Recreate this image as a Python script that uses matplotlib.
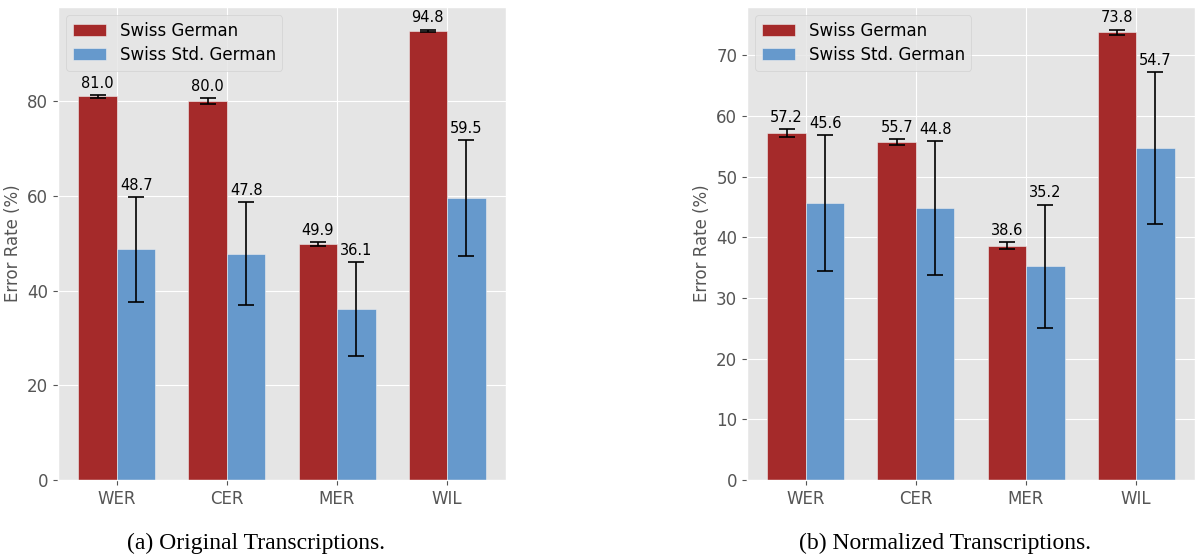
import matplotlib
matplotlib.use("Agg")
import matplotlib.pyplot as plt
import numpy as np

plt.style.use("ggplot")
plt.rcParams["font.family"] = ["DejaVu Sans"]

metrics = ["WER", "CER", "MER", "WIL"]
series_names = ["Swiss German", "Swiss Std. German"]

orig_sg = [81.0, 80.0, 49.9, 94.8]
orig_sg_err = [0.3, 0.55, 0.4, 0.3]
orig_std = [48.7, 47.8, 36.1, 59.5]
orig_std_err = [11.1, 10.9, 9.9, 12.2]

norm_sg = [57.2, 55.7, 38.6, 73.8]
norm_sg_err = [0.7, 0.55, 0.55, 0.45]
norm_std = [45.6, 44.8, 35.2, 54.7]
norm_std_err = [11.2, 11.0, 10.2, 12.5]

captions = ["(a) Original Transcriptions.", "(b) Normalized Transcriptions."]

red = "#A52A2A"
blue = "#6699CC"

W, H = 1196, 557
fig = plt.figure(figsize=(W / 100, H / 100), dpi=100)

def px_axes(l, t, r, b):
    return fig.add_axes([l / W, 1 - b / H, (r - l) / W, (b - t) / H])

ax1 = px_axes(58, 7, 506, 480)
ax2 = px_axes(747, 7, 1195, 480)

width = 0.35
x = np.arange(len(metrics))

def draw(ax, sg, sgerr, std, stderr):
    ekw = dict(elinewidth=1.2, capthick=1.2, ecolor="black")
    ax.bar(x - width / 2, sg, width, yerr=sgerr, capsize=6, color=red,
           label=series_names[0], error_kw=ekw, edgecolor="#EEEEEE", linewidth=0.4)
    ax.bar(x + width / 2, std, width, yerr=stderr, capsize=6, color=blue,
           label=series_names[1], error_kw=ekw, edgecolor="#EEEEEE", linewidth=0.4)
    for xs, vals, errs in [(x - width / 2, sg, sgerr), (x + width / 2, std, stderr)]:
        for xi, v, e in zip(xs, vals, errs):
            ax.annotate(f"{v:.1f}", (xi, v + e), xytext=(0, 3), textcoords="offset points",
                        ha="center", va="bottom", fontsize=10.5, color="black")
    ax.set_xticks(x)
    ax.set_xticklabels(metrics, fontsize=12)
    ax.tick_params(axis="y", labelsize=12)
    ax.set_ylabel("Error Rate (%)", fontsize=12)
    ax.legend(loc="upper left", fontsize=12, handlelength=2.0, labelspacing=0.35,
              borderaxespad=0.5)

draw(ax1, orig_sg, orig_sg_err, orig_std, orig_std_err)
draw(ax2, norm_sg, norm_sg_err, norm_std, norm_std_err)

fig.text(256 / W, 1 - 543 / H, captions[0], ha="center", va="center",
         fontsize=17, family="Liberation Serif", color="black")
fig.text(945 / W, 1 - 543 / H, captions[1], ha="center", va="center",
         fontsize=17, family="Liberation Serif", color="black")

fig.savefig("out.png", dpi=100)
